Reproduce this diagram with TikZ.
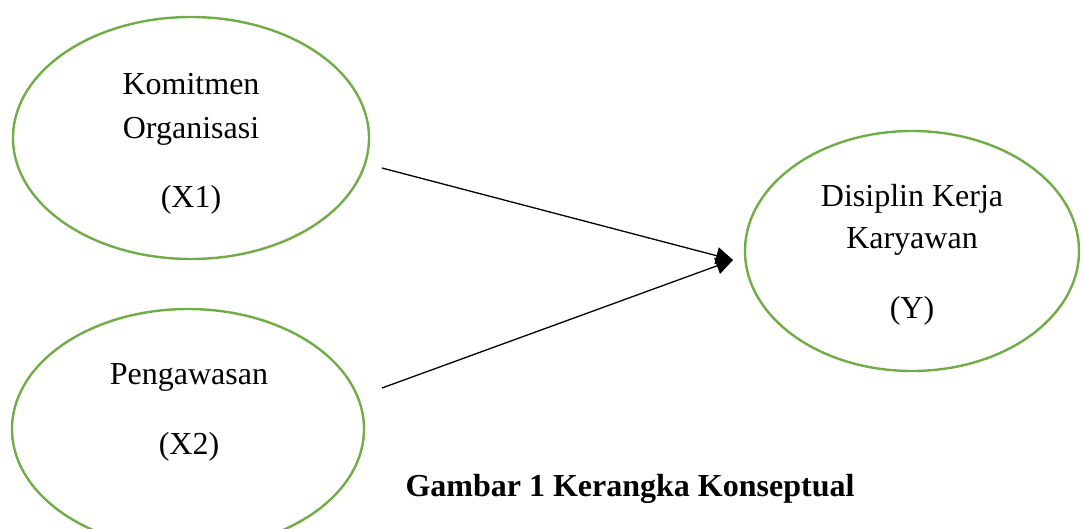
\documentclass[tikz,border=0pt]{standalone}
\usepackage{fontspec}
\setmainfont{Liberation Serif}
\usetikzlibrary{arrows.meta,shapes.geometric}
\definecolor{leaf}{RGB}{112,173,71}
\begin{document}
\begin{tikzpicture}[x=1pt,y=-1pt,
  var/.style={draw=leaf,line width=2.4pt,ellipse,inner sep=0pt},
  lbl/.style={anchor=base,inner sep=0pt,font=\fontsize{32}{38}\selectfont},
  link/.style={line width=1.3pt,-{Triangle[length=17pt,width=17pt]}}]
\useasboundingbox (0,0) rectangle (1082,528);
% variables
\node[var,minimum width=356pt,minimum height=242pt] (x1) at (191,138) {};
\node[var,minimum width=352pt,minimum height=240pt] (x2) at (188,429) {};
\node[var,minimum width=334pt,minimum height=240pt] (y) at (912,251) {};
% labels
\node[lbl] (x1a) at (191,94) {Komitmen};
\node[lbl] (x1b) at (191,138) {Organisasi};
\node[lbl] (x1c) at (191,207) {(X1)};
\node[lbl] (x2a) at (189,384) {Pengawasan};
\node[lbl] (x2b) at (189,454) {(X2)};
\node[lbl] (ya) at (912,206) {Disiplin Kerja};
\node[lbl] (yb) at (912,248) {Karyawan};
\node[lbl] (yc) at (912,318) {(Y)};
% connectors
\coordinate (s1) at (382,168);
\coordinate (s2) at (382,388);
\coordinate (tip) at (733,260);
\draw[link] (s1) -- (tip);
\draw[link] (s2) -- (tip);
% caption
\node[lbl,font=\fontsize{32}{38}\selectfont\bfseries] (cap) at (630,496) {Gambar 1 Kerangka Konseptual};
\end{tikzpicture}
\end{document}
